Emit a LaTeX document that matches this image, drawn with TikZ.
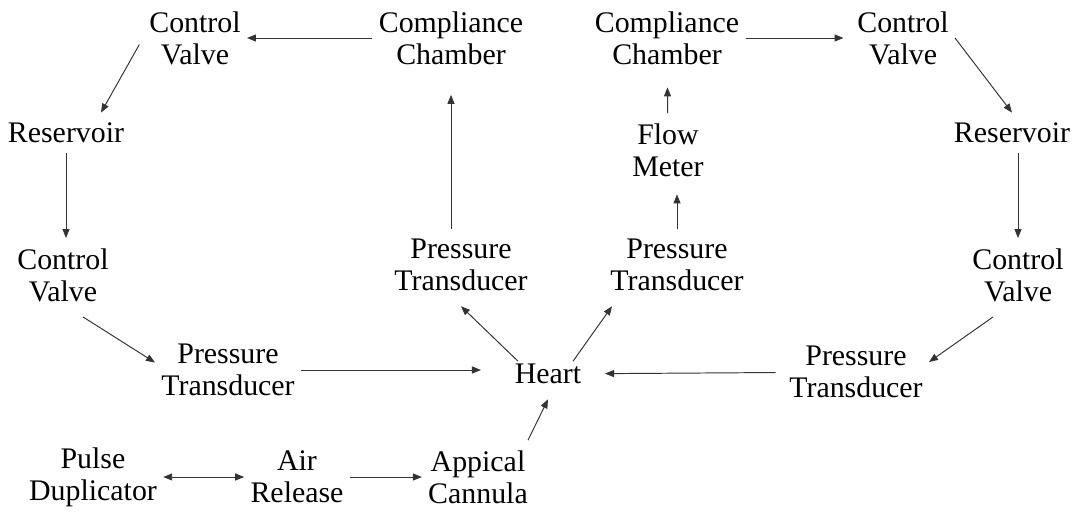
\documentclass[tikz,border=0pt]{standalone}
\usepackage{fontspec}
\setmainfont{Liberation Serif}
\usepackage{tikz}
\usetikzlibrary{arrows.meta,positioning,calc}

\begin{document}
\begin{tikzpicture}[
  n/.style={align=center,inner xsep=0.12cm,inner ysep=0.2cm,font=\fontsize{17}{18.2}\selectfont},
  ln/.style={line width=0.55pt,draw=black!80}]
 \useasboundingbox (0,0) rectangle (21.46,-10.22);
 \node[n] (cvL)  at (3.90,-0.76)  {Control\\Valve};
 \node[n] (ccL)  at (9.02,-0.76)  {Compliance\\Chamber};
 \node[n] (ccR)  at (13.34,-0.76) {Compliance\\Chamber};
 \node[n] (cvR)  at (18.06,-0.76) {Control\\Valve};
 \node[n] (resL) at (1.32,-2.66)  {Reservoir};
 \node[n] (resR) at (20.24,-2.66) {Reservoir};
 \node[n] (flow) at (13.36,-3.00) {Flow\\Meter};
 \node[n] (cvL2) at (1.26,-5.50)  {Control\\Valve};
 \node[n] (cvR2) at (20.36,-5.50) {Control\\Valve};
 \node[n] (ptTL) at (9.22,-5.30)  {Pressure\\Transducer};
 \node[n] (ptTR) at (13.54,-5.30) {Pressure\\Transducer};
 \node[n] (ptL)  at (4.56,-7.40)  {Pressure\\Transducer};
 \node[n] (heart) at (10.96,-7.48) {Heart};
 \node[n] (ptR)  at (17.12,-7.44) {Pressure\\Transducer};
 \node[n] (pulse) at (1.86,-9.54) {Pulse\\Duplicator};
 \node[n] (air)  at (5.94,-9.54)  {Air\\Release};
 \node[n] (apical) at (9.56,-9.54) {Appical\\Cannula};
 \begin{scope}[every path/.style={ln,-{Triangle[length=1.8mm,width=1.4mm]}}]
 % left loop
 \draw (ccL) -- (cvL);
 \draw[shorten <=0.15cm] (cvL.west) -- ([xshift=0.7cm]resL.north);
 \draw (resL) -- (resL |- cvL2.north);
 \draw ([xshift=0.4cm,yshift=-0.1cm]cvL2.south) -- ([yshift=0.15cm]ptL.west);
 \draw[shorten >=0.55cm] (ptL) -- (ptL -| heart.west);
 % out of the heart
 \draw ([xshift=-0.6cm,yshift=-0.15cm]heart.north) -- ([yshift=-0.1cm]ptTL.south);
 \draw[shorten >=0.4cm] (ptTL.north -| ccL) -- (ccL);
 \draw ([xshift=0.5cm,yshift=-0.15cm]heart.north) -- ([xshift=-1.3cm,yshift=-0.1cm]ptTR.south);
 \draw[shorten >=0.15cm] (ptTR) -- (ptTR |- flow.south);
 \draw[shorten >=0.25cm] (flow) -- (ccR);
 % right loop
 \draw[shorten >=0.15cm] (ccR) -- (cvR);
 \draw (cvR.east) -- (resR.north);
 \draw (cvR2 |- resR.south) -- (cvR2);
 \draw ([xshift=-0.5cm,yshift=-0.1cm]cvR2.south) -- ([yshift=0.2cm]ptR.east);
 \draw[shorten <=0.15cm,shorten >=0.35cm] (ptR) -- (heart);
 % bottom row
 \draw ([xshift=1cm]apical.north) -- ([yshift=-0.1cm]heart.south);
 \draw[{Triangle[length=1.8mm,width=1.4mm]}-{Triangle[length=1.8mm,width=1.4mm]}] (pulse) -- (air);
 \draw (air) -- (apical);
 \end{scope}
\end{tikzpicture}
\end{document}
